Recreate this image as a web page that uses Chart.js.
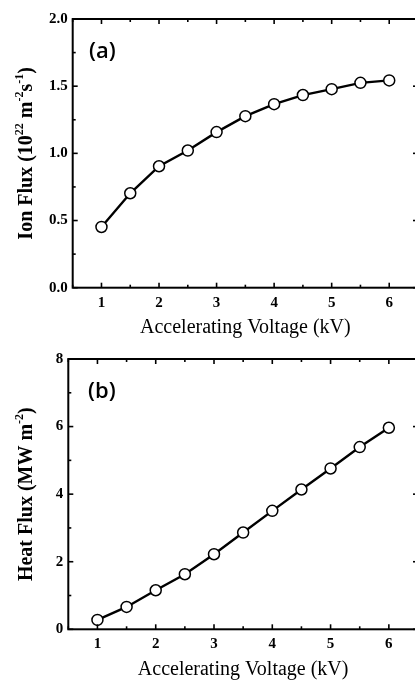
<!DOCTYPE html>
<html>
<head>
<meta charset="utf-8">
<script src="https://cdn.jsdelivr.net/npm/chart.js@4/dist/chart.umd.min.js"></script>
<style>
  html, body { margin: 0; padding: 0; background: #fff; overflow: hidden; }
  #wrap { width: 415px; height: 680px; position: relative; overflow: hidden; }
  canvas { position: absolute; left: 0; }
  #ionChart { top: 0; }
  #heatChart { top: 340px; }
</style>
</head>
<body>
<div id="wrap">
  <!-- canvases are a little wider than the page so the right frame edge is cut off -->
  <canvas id="ionChart" width="418" height="340"></canvas>
  <canvas id="heatChart" width="418" height="340"></canvas>
</div>
<script>
// accelerating voltage (kV)
const voltage = [1, 1.5, 2, 2.5, 3, 3.5, 4, 4.5, 5, 5.5, 6];
// ion flux (10^22 m^-2 s^-1)
const ionFlux = [0.452, 0.703, 0.904, 1.021, 1.158, 1.277, 1.366, 1.434, 1.478, 1.525, 1.543];
// heat flux (MW m^-2)
const heatFlux = [0.277, 0.662, 1.156, 1.63, 2.222, 2.864, 3.506, 4.138, 4.76, 5.393, 5.965];

const xTicks = [1, 2, 3, 4, 5, 6];
const xMinor = [0.5, 1.5, 2.5, 3.5, 4.5, 5.5, 6.5];
const ionTicks = [0, 0.5, 1.0, 1.5, 2.0];
const ionMinor = [0.25, 0.75, 1.25, 1.75];
const heatTicks = [0, 2, 4, 6, 8];
const heatMinor = [1, 3, 5, 7];

const serif = "'Liberation Serif', 'Times New Roman', serif";

// frame with inward ticks on all four sides, plus titles and panel tag
const framePlugin = {
  id: "frame",
  afterDraw(chart, args, opts) {
    const ctx = chart.ctx;
    const { left, right, top, bottom } = chart.chartArea;
    const xs = chart.scales.x, ys = chart.scales.y;
    ctx.save();
    ctx.strokeStyle = "#000";
    ctx.lineWidth = 2;
    ctx.strokeRect(left, top, right - left, bottom - top);

    ctx.lineWidth = 1.6;
    const tick = (x1, y1, x2, y2) => {
      ctx.beginPath();
      ctx.moveTo(x1, y1);
      ctx.lineTo(x2, y2);
      ctx.stroke();
    };
    const major = 5, minor = 3;
    opts.xMajor.forEach((v) => {
      const px = xs.getPixelForValue(v);
      tick(px, bottom, px, bottom - major);
      tick(px, top, px, top + major);
    });
    opts.xMinor.forEach((v) => {
      const px = xs.getPixelForValue(v);
      tick(px, bottom, px, bottom - minor);
      tick(px, top, px, top + minor);
    });
    opts.yMajor.forEach((v) => {
      const py = ys.getPixelForValue(v);
      tick(left, py, left + major, py);
      tick(right, py, right - major, py);
    });
    opts.yMinor.forEach((v) => {
      const py = ys.getPixelForValue(v);
      tick(left, py, left + minor, py);
      tick(right, py, right - minor, py);
    });

    // x title
    ctx.fillStyle = "#000";
    ctx.font = "20px " + serif;
    ctx.textAlign = "center";
    ctx.textBaseline = "middle";
    ctx.fillText("Accelerating Voltage (kV)", (left + right) / 2, opts.xTitleY);

    // y title with superscripts
    const big = "bold 20px " + serif, small = "bold 12px " + serif;
    let total = 0;
    opts.yTitle.forEach((p) => {
      ctx.font = p.sup ? small : big;
      total += ctx.measureText(p.t).width;
    });
    ctx.translate(opts.yTitleX, (top + bottom) / 2);
    ctx.rotate(-Math.PI / 2);
    ctx.textAlign = "left";
    ctx.textBaseline = "alphabetic";
    let cx = -total / 2;
    opts.yTitle.forEach((p) => {
      ctx.font = p.sup ? small : big;
      ctx.fillText(p.t, cx, p.sup ? -2 : 7);
      cx += ctx.measureText(p.t).width;
    });
    ctx.setTransform(1, 0, 0, 1, 0, 0);

    // panel tag
    ctx.font = "600 22px 'Open Sans', 'Noto Sans', sans-serif";
    ctx.textBaseline = "middle";
    ctx.fillText(opts.tag, opts.tagX, 52);
    ctx.restore();
  },
};

function makePanel(id, yValues, yMajor, yMinor, yMax, yFmt, cfg) {
  return new Chart(document.getElementById(id), {
    type: "line",
    data: {
      datasets: [
        {
          data: voltage.map((v, i) => ({ x: v, y: yValues[i] })),
          borderColor: "#000",
          borderWidth: 2.4,
          pointRadius: 5.5,
          pointBorderWidth: 1.5,
          pointBackgroundColor: "#fff",
          pointBorderColor: "#000",
          tension: 0,
          clip: false,
        },
      ],
    },
    options: {
      responsive: false,
      animation: false,
      devicePixelRatio: 1,
      layout: { autoPadding: false, padding: { top: 19, right: 0, left: 0, bottom: 0 } },
      plugins: {
        legend: { display: false },
        tooltip: { enabled: false },
        frame: cfg.frame,
      },
      scales: {
        x: {
          type: "linear",
          min: 0.5,
          max: 6.5,
          grid: { display: false, drawTicks: false },
          border: { display: false },
          afterBuildTicks: (s) => { s.ticks = xTicks.map((v) => ({ value: v })); },
          afterFit: (s) => {
            s.height = cfg.xHeight;
            s.paddingLeft = 0;
            s.paddingRight = 0;
          },
          ticks: {
            padding: 6,
            color: "#000",
            font: { family: serif, size: 15, weight: "bold" },
            callback: (v) => String(v),
          },
        },
        y: {
          type: "linear",
          min: 0,
          max: yMax,
          grid: { display: false, drawTicks: false },
          border: { display: false },
          afterBuildTicks: (s) => { s.ticks = yMajor.map((v) => ({ value: v })); },
          afterFit: (s) => { s.width = cfg.yWidth; },
          ticks: {
            padding: 5,
            color: "#000",
            font: { family: serif, size: 15, weight: "bold" },
            callback: yFmt,
          },
        },
      },
    },
    plugins: [framePlugin],
  });
}

makePanel("ionChart", ionFlux, ionTicks, ionMinor, 2.0, (v) => v.toFixed(1), {
  xHeight: 52.3,
  yWidth: 72.7,
  frame: {
    xMajor: xTicks, xMinor: xMinor, yMajor: ionTicks, yMinor: ionMinor,
    xTitleY: 328, yTitleX: 25, tag: "(a)", tagX: 89,
    yTitle: [
      { t: "Ion Flux (10" }, { t: "22", sup: true }, { t: " m" },
      { t: "-2", sup: true }, { t: "s" }, { t: "-1", sup: true }, { t: ")" },
    ],
  },
});

makePanel("heatChart", heatFlux, heatTicks, heatMinor, 8, (v) => String(v), {
  xHeight: 50.7,
  yWidth: 68.3,
  frame: {
    xMajor: xTicks, xMinor: xMinor, yMajor: heatTicks, yMinor: heatMinor,
    xTitleY: 330, yTitleX: 25, tag: "(b)", tagX: 88,
    yTitle: [
      { t: "Heat Flux (MW m" }, { t: "-2", sup: true }, { t: ")" },
    ],
  },
});
</script>
</body>
</html>
